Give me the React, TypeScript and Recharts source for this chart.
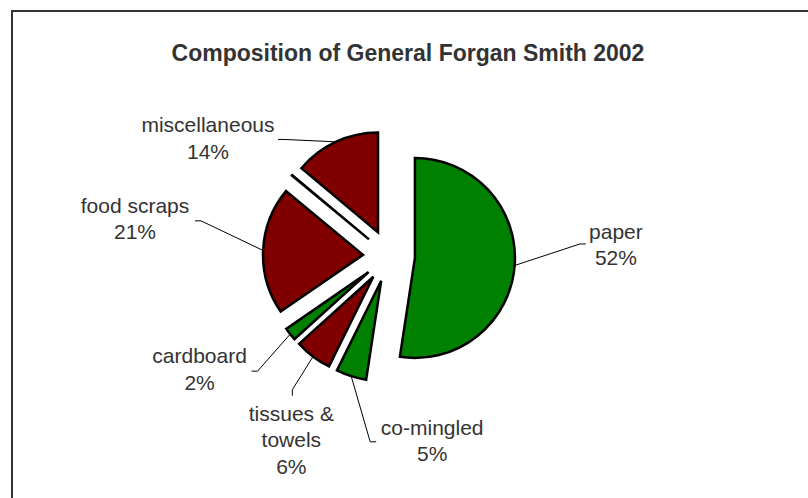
import { Cell, Pie, PieChart } from "recharts";

const categories = [
  "paper",
  "co-mingled",
  "tissues & towels",
  "cardboard",
  "food scraps",
  "other",
  "miscellaneous",
];
const shares = [52.4, 4.9, 6.0, 2.1, 20.6, 0.1, 13.9];
const sliceColors = ["#008000", "#008000", "#800000", "#008000", "#800000", "#800000", "#800000"];

// where each label sits, relative to the centre of its (exploded) slice
const labelLayout: Record<string, { tx: number; ty: number; ex: number; ey: number; side: "left" | "right" | "bottom" }> = {
  paper: { tx: 201, ty: -19, ex: 171, ey: -14, side: "right" },
  "co-mingled": { tx: 51, ty: 154, ex: -5, ey: 161, side: "right" },
  "tissues & towels": { tx: -82, ty: 144, ex: -81, ey: 119, side: "bottom" },
  cardboard: { tx: -169, ty: 91, ex: -117, ey: 99, side: "left" },
  "food scraps": { tx: -228, ty: -42, ex: -168, ey: -34, side: "left" },
  miscellaneous: { tx: -170, ty: -100, ex: -100, ey: -93, side: "left" },
};

const W = 808;
const H = 498;
const CX = 389;
const CY = 256;
const RADIUS = 100;
const EXPLODE = 26;
const START = 90;
const RAD = Math.PI / 180;
const FONT = "'Liberation Sans', Arial, sans-serif";
const TEXT = "#333333";

const data = categories.map((name, i) => ({ name, value: shares[i] }));
const total = shares.reduce((a, b) => a + b, 0);

function explodedCentre(i: number) {
  const before = shares.slice(0, i).reduce((a, b) => a + b, 0);
  const mid = START - (360 * (before + shares[i] / 2)) / total;
  return { x: CX + EXPLODE * Math.cos(mid * RAD), y: CY - EXPLODE * Math.sin(mid * RAD) };
}

function wrap(name: string) {
  if (name.length <= 14) return [name];
  const cut = name.lastIndexOf(" ");
  return [name.slice(0, cut), name.slice(cut + 1)];
}

function makeLabel(own: number) {
  return (props: any) => {
    const { cx, cy, midAngle, outerRadius, index, name, percent } = props;
    if (index !== own) return null;
    const layout = labelLayout[name];
    if (!layout) return null;
    const sx = cx + outerRadius * Math.cos(-midAngle * RAD);
    const sy = cy + outerRadius * Math.sin(-midAngle * RAD);
    const ex = cx + layout.ex;
    const ey = cy + layout.ey;
    let bx = ex;
    let by = ey;
    if (layout.side === "right") bx = ex - 6;
    else if (layout.side === "left") bx = ex + 6;
    else by = ey - 6;
    const lines = [...wrap(name), `${Math.round(percent * 100)}%`];
    return (
      <g>
        <polyline
          points={`${sx},${sy} ${bx},${by} ${ex},${ey}`}
          fill="none"
          stroke="#000"
          strokeWidth={1}
        />
        <text
          x={cx + layout.tx}
          y={cy + layout.ty}
          textAnchor="middle"
          fontFamily={FONT}
          fontSize={21}
          fill={TEXT}
        >
          {lines.map((l, k) => (
            <tspan key={k} x={cx + layout.tx} dy={k === 0 ? 0 : 26.5}>
              {l}
            </tspan>
          ))}
        </text>
      </g>
    );
  };
}

export default function App() {
  return (
    <div style={{ position: "absolute", left: 0, top: 0, width: W, height: H, background: "#fff" }}>
      <div
        style={{
          position: "absolute",
          left: 11,
          top: 10,
          width: W - 11,
          height: H - 10,
          borderLeft: "2px solid #333",
          borderTop: "2px solid #333",
        }}
      />
      <div
        style={{
          position: "absolute",
          left: 0,
          width: 816,
          top: 39,
          textAlign: "center",
          fontFamily: FONT,
          fontWeight: "bold",
          fontSize: 23,
          color: TEXT,
          lineHeight: "28px",
        }}
      >
        Composition of General Forgan Smith 2002
      </div>
      <div style={{ position: "absolute", left: 0, top: 0 }}>
        <PieChart width={W} height={H} margin={{ top: 0, right: 0, bottom: 0, left: 0 }}>
          {categories.map((cat, i) => {
            const c = explodedCentre(i);
            return (
              <Pie
                key={cat}
                data={data}
                dataKey="value"
                nameKey="name"
                cx={c.x}
                cy={c.y}
                innerRadius={0}
                outerRadius={RADIUS}
                startAngle={START}
                endAngle={START - 360}
                isAnimationActive={false}
                labelLine={false}
                label={makeLabel(i)}
              >
                {data.map((d, k) => (
                  <Cell
                    key={d.name}
                    fill={k === i ? sliceColors[k] : "none"}
                    stroke={k === i ? "#000" : "none"}
                    strokeWidth={2.5}
                    strokeLinejoin="miter"
                  />
                ))}
              </Pie>
            );
          })}
        </PieChart>
      </div>
    </div>
  );
}
